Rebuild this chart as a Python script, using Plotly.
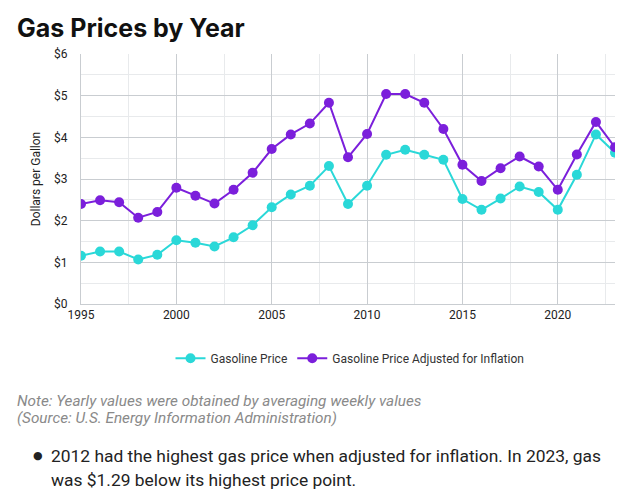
import plotly.graph_objects as go

years = list(range(1995, 2024))
gas_price = [1.16, 1.26, 1.26, 1.07, 1.18, 1.53, 1.47, 1.38, 1.60, 1.89,
             2.32, 2.63, 2.84, 3.31, 2.40, 2.84, 3.58, 3.70, 3.58, 3.46,
             2.52, 2.26, 2.53, 2.82, 2.69, 2.26, 3.10, 4.07, 3.63]
gas_adjusted = [2.40, 2.49, 2.44, 2.07, 2.21, 2.79, 2.60, 2.41, 2.74, 3.15,
                3.72, 4.07, 4.33, 4.83, 3.52, 4.08, 5.04, 5.04, 4.83, 4.20,
                3.34, 2.95, 3.26, 3.54, 3.30, 2.74, 3.59, 4.37, 3.76]
y_ticks = [0, 1, 2, 3, 4, 5, 6]
y_tick_labels = ["$0", "$1", "$2", "$3", "$4", "$5", "$6"]

TEAL = "#2ad8d8"
PURPLE = "#7b1fdb"

fig = go.Figure()
fig.add_trace(go.Scatter(x=years, y=gas_price, mode="lines+markers",
                         name="Gasoline Price",
                         line=dict(color=TEAL, width=2),
                         marker=dict(color=TEAL, size=10)))
fig.add_trace(go.Scatter(x=years, y=gas_adjusted, mode="lines+markers",
                         name="Gasoline Price Adjusted for Inflation",
                         line=dict(color=PURPLE, width=2),
                         marker=dict(color=PURPLE, size=10)))

OFF = 8  # page body margin
W, H = 640, 500
# plot area in screen pixels
X0, X1, Y0, Y1 = 81, 615, 53.5, 304.5
L = X0 - OFF
R = W - (X1 - OFF)
T = Y0 - OFF
B = H - (Y1 - OFF)
pw = X1 - X0
ph = Y1 - Y0

def px(x):
    return (x - X0) / pw

def py(y):
    return (Y1 - y) / ph

fig.update_layout(
    width=W, height=H,
    margin=dict(l=L, r=R, t=T, b=B, autoexpand=False),
    paper_bgcolor="white", plot_bgcolor="white",
    font=dict(family="Roboto, sans-serif", color="#222"),
    showlegend=True,
    legend=dict(orientation="h", x=px(350), xanchor="center",
                y=py(359), yanchor="middle",
                font=dict(size=12, color="#333"), itemwidth=30,
                bgcolor="rgba(0,0,0,0)"),
    xaxis=dict(range=[1995, 2023], tick0=1995, dtick=5,
               showgrid=True, gridcolor="#c9cdd1", gridwidth=1,
               minor=dict(dtick=2.5, tick0=1995, showgrid=True, gridcolor="#e8eaec"),
               showline=True, linecolor="#c9cdd1", linewidth=1,
               zeroline=False, ticks="", tickfont=dict(size=12, color="#222")),
    yaxis=dict(range=[0, 6], tickvals=y_ticks, ticktext=y_tick_labels,
               showgrid=True, gridcolor="#c9cdd1", gridwidth=1,
               minor=dict(dtick=0.5, tick0=0, showgrid=True, gridcolor="#e8eaec"),
               showline=True, linecolor="#c9cdd1", linewidth=1,
               zeroline=False, ticks="", ticklabelstandoff=10,
               tickfont=dict(size=12, color="#222"),
               title=dict(text="Dollars per Gallon", font=dict(size=12, color="#222"),
                          standoff=10)),
)

fig.add_annotation(text="<b>Gas Prices by Year</b>", xref="paper", yref="paper",
                   x=px(15), y=py(27), xanchor="left", yanchor="middle",
                   showarrow=False, font=dict(size=25, color="#111", family="Inter, sans-serif"))
fig.add_annotation(text="<i>Note: Yearly values were obtained by averaging weekly values</i>",
                   xref="paper", yref="paper", x=px(15), y=py(402), xanchor="left",
                   yanchor="middle", showarrow=False,
                   font=dict(size=15.3, color="#8a8a8a"))
fig.add_annotation(text="<i>(Source: U.S. Energy Information Administration)</i>",
                   xref="paper", yref="paper", x=px(15), y=py(419), xanchor="left",
                   yanchor="middle", showarrow=False,
                   font=dict(size=15.3, color="#8a8a8a"))
fig.add_annotation(text="●", xref="paper", yref="paper", x=px(38), y=py(457),
                   xanchor="center", yanchor="middle", showarrow=False,
                   font=dict(size=11, color="#222", family="DejaVu Sans"))
fig.add_annotation(text="2012 had the highest gas price when adjusted for inflation. In 2023, gas",
                   xref="paper", yref="paper", x=px(49), y=py(457), xanchor="left",
                   yanchor="middle", showarrow=False, font=dict(size=17.4, color="#222"))
fig.add_annotation(text="was $1.29 below its highest price point.",
                   xref="paper", yref="paper", x=px(49), y=py(481), xanchor="left",
                   yanchor="middle", showarrow=False, font=dict(size=17.4, color="#222"))

fig.write_html("out.html")
